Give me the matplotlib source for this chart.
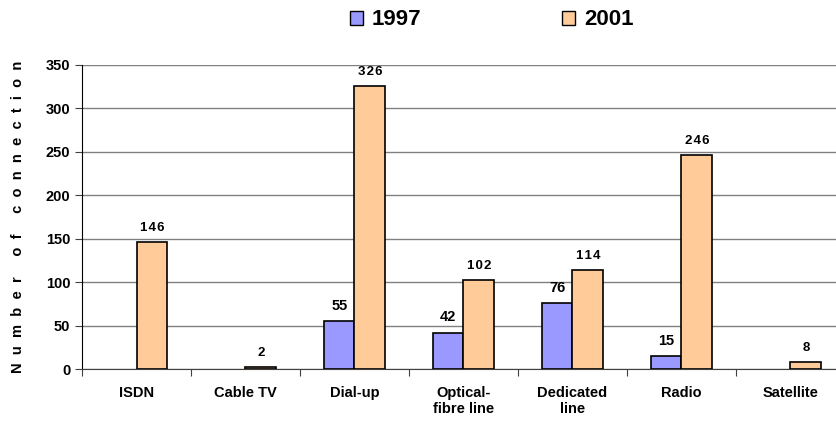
import numpy as np
import matplotlib
matplotlib.use("Agg")
import matplotlib.pyplot as plt

plt.rcParams['font.family'] = ['Liberation Sans', 'DejaVu Sans']

categories = ["ISDN", "Cable TV", "Dial-up", "Optical-\nfibre line",
              "Dedicated\nline", "Radio", "Satellite"]
# no 1997 figure for ISDN, Cable TV and Satellite
v1997 = [np.nan, np.nan, 55, 42, 76, 15, np.nan]
v2001 = [146, 2, 326, 102, 114, 246, 8]

fig = plt.figure(figsize=(8.36, 4.23), dpi=100)
# plot area runs a little past the right edge, as in the original
ax = fig.add_axes([82 / 836, 1 - 369 / 423, 763 / 836, 304 / 423])

x = np.arange(len(categories))
w = 0.28
b1 = ax.bar(x - w / 2, v1997, w, color="#9999FF", edgecolor="black", linewidth=1.2, zorder=3)
b2 = ax.bar(x + w / 2, v2001, w, color="#FFCC99", edgecolor="black", linewidth=1.2, zorder=3)

for rect, v in zip(b1, v1997):
    if np.isnan(v):
        continue
    ax.annotate(str(v), (rect.get_x() + rect.get_width() / 2, v),
                xytext=(0, 6), textcoords="offset points",
                ha="center", va="bottom", fontsize=10.5, fontweight="bold")
for rect, v in zip(b2, v2001):
    ax.annotate("\u200a".join(str(v)), (rect.get_x() + rect.get_width() / 2, v),
                xytext=(0, 6), textcoords="offset points",
                ha="center", va="bottom", fontsize=9.5, fontweight="bold")

ax.set_xlim(-0.5, len(categories) - 0.5)
ax.set_ylim(0, 350)
ax.set_yticks(range(0, 351, 50))
ax.yaxis.grid(True, color="#808080", linewidth=1, zorder=0)
ax.set_xticks(np.arange(len(categories) + 1) - 0.5)
ax.set_xticklabels([])
ax.set_xticks(x, minor=True)
ax.set_xticklabels(categories, minor=True, fontsize=10.5, fontweight="bold")
ax.tick_params(axis="x", which="minor", length=0, pad=12)
ax.tick_params(axis="x", which="major", length=5, color="#404040")
ax.tick_params(axis="y", length=5, labelsize=10.5, color="#404040")
for lab in ax.get_yticklabels():
    lab.set_fontweight("bold")

for s in ("top", "right"):
    ax.spines[s].set_visible(False)
ax.spines["left"].set_color("black")
ax.spines["bottom"].set_color("#404040")

ylab = "     ".join("  ".join(word) for word in "Number of connection".split())
ax.set_ylabel(ylab, fontsize=10.5, fontweight="bold", labelpad=15)

handles = [plt.Rectangle((0, 0), 1, 1, facecolor="#9999FF", edgecolor="black"),
           plt.Rectangle((0, 0), 1, 1, facecolor="#FFCC99", edgecolor="black")]
fig.legend(handles, ["1997", "2001"], loc="upper center", ncol=2,
           bbox_to_anchor=(0.588, 1.025), frameon=False,
           prop={"size": 16, "weight": "bold"}, columnspacing=6.3,
           handlelength=0.6, handleheight=0.6, handletextpad=0.4)

fig.savefig("out.png", dpi=100)
